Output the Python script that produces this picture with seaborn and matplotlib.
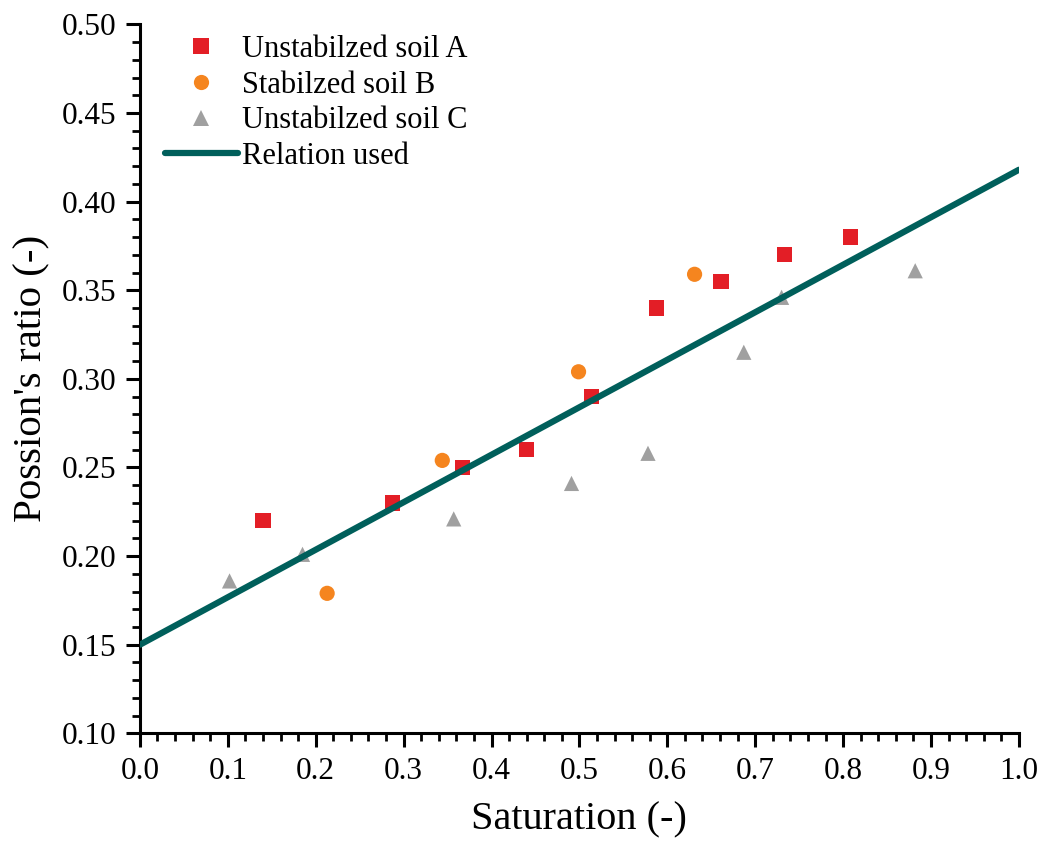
import numpy as np
import pandas as pd
import seaborn as sns
import matplotlib.pyplot as plt
from matplotlib.ticker import MultipleLocator, FormatStrFormatter

sns.set_style("ticks")
plt.rcParams['font.family'] = ['Liberation Serif', 'DejaVu Serif']
plt.rcParams['mathtext.fontset'] = 'stix'
for k in ['text.color', 'axes.labelcolor', 'xtick.color', 'ytick.color', 'axes.edgecolor']:
    plt.rcParams[k] = 'black'

# soil A (unstabilized)
sat_a = [0.140, 0.287, 0.367, 0.440, 0.514, 0.588, 0.661, 0.733, 0.808]
nu_a = [0.220, 0.230, 0.250, 0.260, 0.290, 0.340, 0.355, 0.370, 0.380]
# soil B (stabilized)
sat_b = [0.213, 0.344, 0.499, 0.631]
nu_b = [0.179, 0.254, 0.304, 0.359]
# soil C (unstabilized)
sat_c = [0.102, 0.185, 0.357, 0.491, 0.578, 0.687, 0.730, 0.882]
nu_c = [0.186, 0.201, 0.221, 0.241, 0.258, 0.315, 0.346, 0.361]
# relation used
rel_x = [0.0, 1.0]
rel_y = [0.150, 0.418]

labels = ["Unstabilzed soil A", "Stabilzed soil B", "Unstabilzed soil C"]
df = pd.concat([
    pd.DataFrame({"sat": sat_a, "nu": nu_a, "soil": labels[0]}),
    pd.DataFrame({"sat": sat_b, "nu": nu_b, "soil": labels[1]}),
    pd.DataFrame({"sat": sat_c, "nu": nu_c, "soil": labels[2]}),
])
rel = pd.DataFrame({"sat": rel_x, "nu": rel_y})

fig = plt.figure(figsize=(10.44, 8.41), dpi=100)
ax = fig.add_axes([0.134, 0.128, 0.842, 0.843])

pal = {labels[0]: "#e31e26", labels[1]: "#f5851f", labels[2]: "#a0a0a0"}
mk = {labels[0]: "s", labels[1]: "o", labels[2]: "^"}
sns.scatterplot(data=df, x="sat", y="nu", hue="soil", style="soil",
                palette=pal, markers=mk, s=120, linewidth=0, ax=ax, zorder=2)
sns.lineplot(data=rel, x="sat", y="nu", color="#005f5b", lw=4.5,
             ax=ax, label="Relation used", zorder=3)

ax.set_xlim(0, 1.0)
ax.set_ylim(0.10, 0.50)
ax.xaxis.set_major_locator(MultipleLocator(0.1))
ax.xaxis.set_minor_locator(MultipleLocator(0.02))
ax.yaxis.set_major_locator(MultipleLocator(0.05))
ax.yaxis.set_minor_locator(MultipleLocator(0.01))
ax.xaxis.set_major_formatter(FormatStrFormatter("%.1f"))
ax.yaxis.set_major_formatter(FormatStrFormatter("%.2f"))
ax.tick_params(which="major", direction="out", length=10, width=2.2,
               labelsize=22.5, pad=7)
ax.tick_params(which="minor", direction="out", length=5.5, width=2.0)
for s in ["top", "right"]:
    ax.spines[s].set_visible(False)
for s in ["left", "bottom"]:
    ax.spines[s].set_linewidth(2.2)
ax.set_xlabel("Saturation (-)", fontsize=29, labelpad=11)
ax.set_ylabel("Possion's ratio (-)", fontsize=29.5, labelpad=8)

h, l = ax.get_legend_handles_labels()
ax.legend(h, l, loc="upper left", bbox_to_anchor=(0.028, 0.985), frameon=False,
          fontsize=22, handlelength=2.4, handletextpad=0.15, labelspacing=0.22,
          borderaxespad=0, borderpad=0, markerscale=1.0)

fig.savefig("out.png", dpi=100)
